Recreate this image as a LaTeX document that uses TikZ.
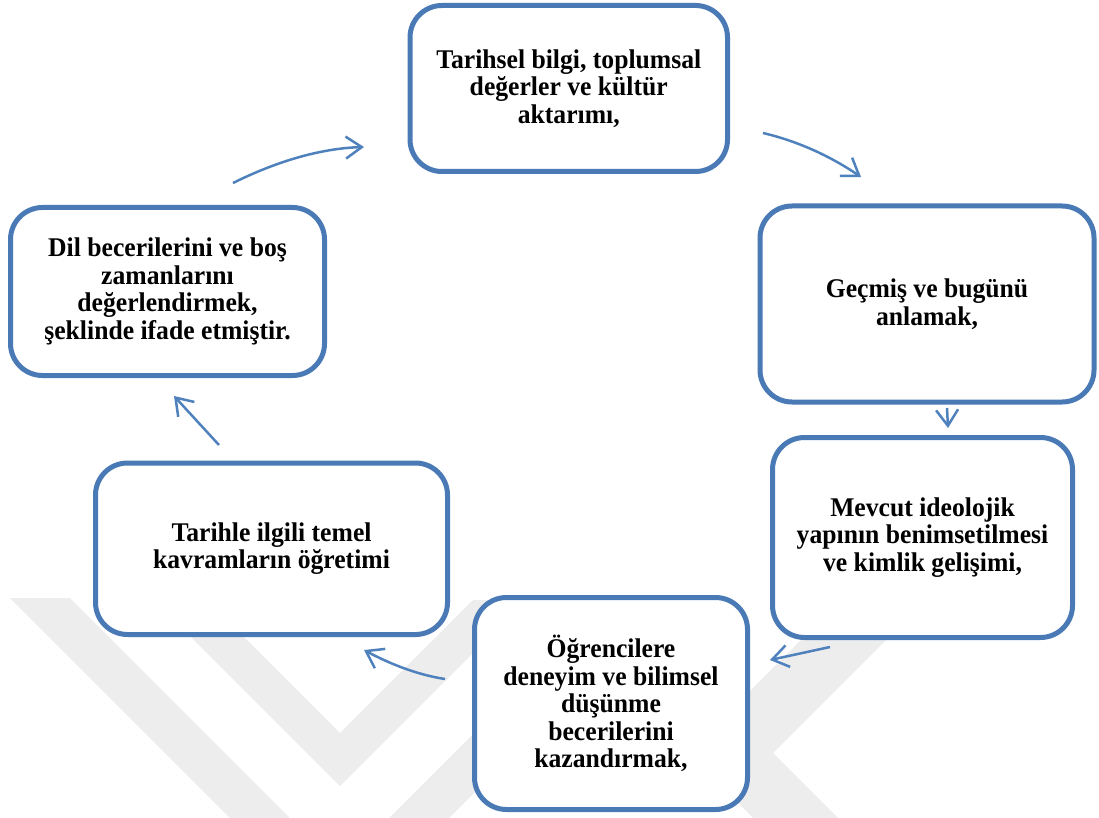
\documentclass[tikz,border=0pt]{standalone}
\usepackage{fontspec}
\setmainfont{Liberation Serif}
\newfontfamily\boxfont{Liberation Serif}[FakeStretch=0.95, BoldFont={Liberation Serif Bold}]
\usetikzlibrary{arrows.meta}
\definecolor{boxblue}{HTML}{4A7AB6}
\definecolor{arrowblue}{HTML}{4F81BD}
\definecolor{wmgray}{HTML}{EDEDED}
\begin{document}
\begin{tikzpicture}[x=1pt,y=-1pt,
  cyclebox/.style={draw=boxblue, line width=5pt, rounded corners=32pt, fill=white,
    align=center, inner sep=0pt, font=\boxfont\fontsize{27}{27.5}\selectfont\bfseries},
  flow/.style={draw=arrowblue, line width=2.5pt, -{Straight Barb[length=16pt,width=22pt]}},
  wmark/.style={fill=wmgray, draw=none}]
\useasboundingbox (0,0) rectangle (1099,818);
% faint watermark
\fill[wmark] (10,598) -- (70,598) -- (290,818) -- (230,818) -- cycle;
\fill[wmark] (389,818) -- (449,818) -- (600,667) -- (540,667) -- cycle;
\fill[wmark] (174,620) -- (340,786) -- (526,600) -- (473,600) -- (340,733) -- (227,620) -- cycle;
\fill[wmark] (841,600) -- (926,600) -- (773,753) -- (838,818) -- (753,818) -- (688,753) -- cycle;
% boxes
\node[cyclebox, minimum width=317.5pt, minimum height=166pt] (b1) at (568.75,88.5)
  {Tarihsel bilgi, toplumsal\\değerler ve kültür\\aktarımı,};
\node[cyclebox, minimum width=334pt, minimum height=196pt] (b2) at (927,304)
  {Geçmiş ve bugünü\\anlamak,};
\node[cyclebox, minimum width=300pt, minimum height=200pt] (b3) at (922.5,537.5)
  {Mevcut ideolojik\\yapının benimsetilmesi\\ve kimlik gelişimi,};
\node[cyclebox, minimum width=273pt, minimum height=212pt] (b4) at (611,703.5)
  {Öğrencilere\\deneyim ve bilimsel\\düşünme\\becerilerini\\kazandırmak,};
\node[cyclebox, minimum width=352pt, minimum height=171.5pt] (b5) at (271.5,548.75)
  {Tarihle ilgili temel\\kavramların öğretimi};
\node[cyclebox, minimum width=314pt, minimum height=168pt] (b6) at (167.5,291.5)
  {Dil becerilerini ve boş\\zamanlarını\\değerlendirmek,\\şeklinde ifade etmiştir.};
% arrow end points
\coordinate (a1s) at (233,183); \coordinate (a1e) at (364,147);
\coordinate (a2s) at (763,133); \coordinate (a2e) at (861,177);
\coordinate (a3s) at (947,408); \coordinate (a3e) at (948,428);
\coordinate (a4s) at (830,647); \coordinate (a4e) at (770,660);
\coordinate (a5s) at (445,679); \coordinate (a5e) at (364,650);
\coordinate (a6s) at (219,445); \coordinate (a6e) at (174,396);
\draw[flow] (a1s) .. controls +(45.7,-22.7) and +(-41.7,1.3) .. (a1e);
\draw[flow] (a2s) .. controls +(34,8) and +(-31.3,-21.3) .. (a2e);
\draw[flow] (a3s) -- (a3e);
\draw[flow] (a4s) -- (a4e);
\draw[flow] (a5s) .. controls +(-24,-3.6) and +(29.9,16) .. (a5e);
\draw[flow] (a6s) -- (a6e);
\end{tikzpicture}
\end{document}
